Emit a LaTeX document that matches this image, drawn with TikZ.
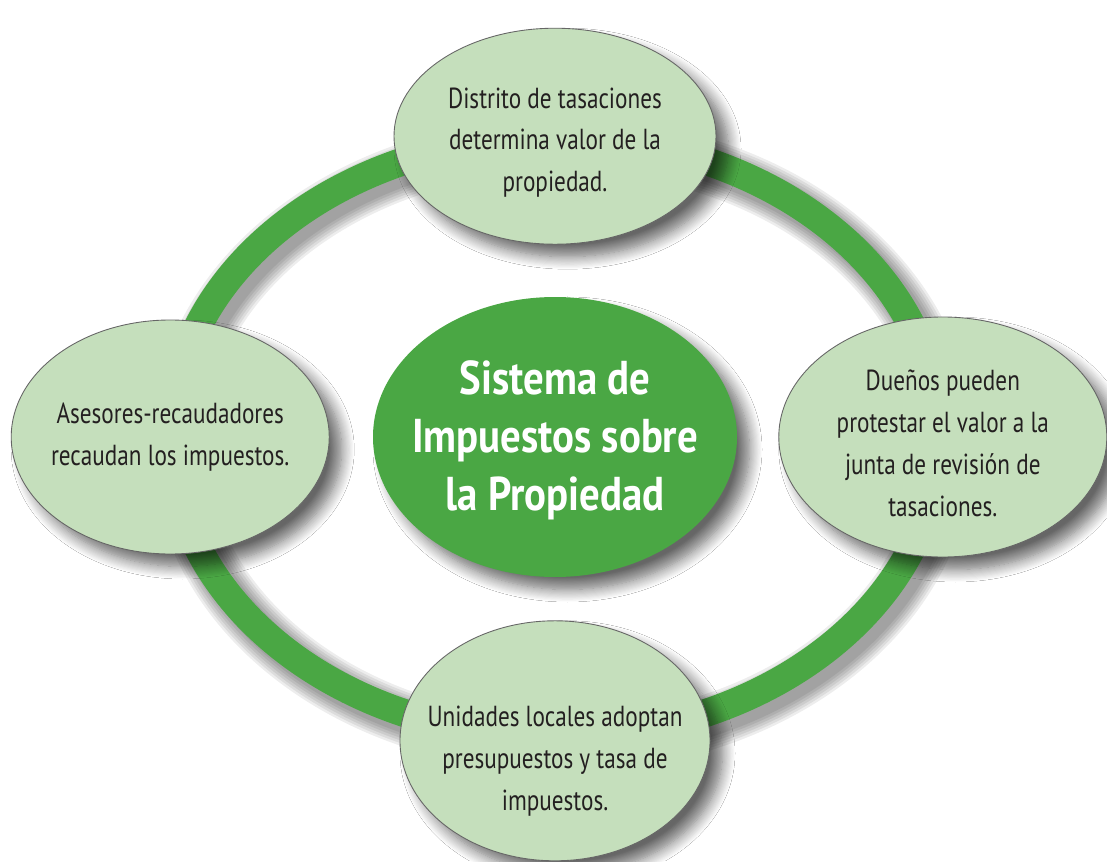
\documentclass[tikz,border=0pt]{standalone}
\usepackage{fontspec}
\setmainfont{PT Sans}[FakeStretch=0.8, BoldFeatures={FakeStretch=0.86}]
\usetikzlibrary{shapes.geometric,shadows.blur,positioning}
\definecolor{anillo}{RGB}{74,167,68}
\definecolor{hoja}{RGB}{197,223,188}
\definecolor{tinta}{RGB}{35,31,32}

\begin{document}
\begin{tikzpicture}[node distance=1cm,
	sombra/.style={blur shadow={shadow xshift=0.25cm, shadow yshift=-0.25cm, shadow blur radius=0.25cm, shadow blur steps=12, shadow opacity=60}},
	paso/.style={ellipse, draw=black!60, line width=0.5pt, fill=hoja, text=tinta, inner sep=-1.5cm, align=center, font=\fontsize{16.5}{23.8}\selectfont, sombra},
	centro/.style={ellipse, fill=anillo, text=white, inner sep=-1.5cm, minimum width=7.28cm, minimum height=5.6cm, align=center, font=\bfseries\fontsize{27}{33}\selectfont, sombra}]
	\useasboundingbox (0,0) rectangle (22.14,17.22);
	\fill[white] (0,0) rectangle (22.14,17.22);

	% ring with its shadow
	\coordinate (mid) at (11.1,8.48);
	\foreach \k in {1,...,6}{
		\pgfmathsetmacro\ancho{0.5+\k*0.1}
		\draw[black, opacity=0.07, line width=\ancho cm] ([shift={(0.15,-0.15)}]mid) ellipse [x radius=7.68cm, y radius=6cm];
	}
	\draw[anillo, line width=0.56cm] (mid) ellipse [x radius=7.68cm, y radius=6cm];

	\node[centro, text height=3.12cm] (sistema) at (mid)                                                   {Sistema de\\Impuestos sobre\\la Propiedad};
	\node[paso, minimum width=6.44cm, minimum height=4.32cm, text height=2.34cm] (distrito) [above=1.04cm of sistema] {Distrito de tasaciones\\determina valor de la\\propiedad.};
	\node[paso, minimum width=6.56cm, minimum height=4.8cm, text height=3.18cm] (duenos) [right=0.82cm of sistema]    {Dueños pueden\\protestar el valor a la\\junta de revisión de\\tasaciones.};
	\node[paso, minimum width=6.2cm, minimum height=4.8cm, text height=2.9cm] (unidades) [below=0.86cm of sistema]   {Unidades locales adoptan\\presupuestos y tasa de\\impuestos.};
	\node[paso, minimum width=6.36cm, minimum height=4.68cm] (asesores) [left=0.86cm of sistema]  {Asesores-recaudadores\\recaudan los impuestos.};
\end{tikzpicture}
\end{document}
